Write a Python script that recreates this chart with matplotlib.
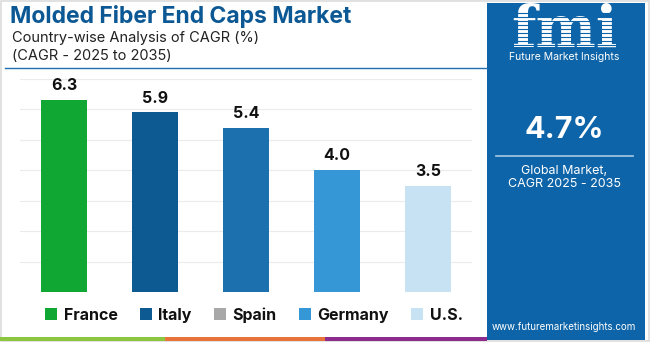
import matplotlib
matplotlib.use("Agg")
import matplotlib.pyplot as plt
from matplotlib.patches import Rectangle
from matplotlib.lines import Line2D

# Data
countries = ["France", "Italy", "Spain", "Germany", "U.S."]
cagr = [6.3, 5.9, 5.4, 4.0, 3.5]
bar_colors = ["#10a833", "#0c5a91", "#1c70ae", "#3597d5", "#c6e2f3"]
legend_colors = ["#10a833", "#0c5a91", "#a8a8a8", "#3597d5", "#c6e2f3"]
global_cagr = "4.7%"

W, H = 650, 342
fig = plt.figure(figsize=(W / 100, H / 100), dpi=100)
FONT = ["Inter", "DejaVu Sans"]
plt.rcParams["font.family"] = FONT


def fx(px):
    return px / W


def fy(py):
    return 1 - py / H


# Outer frame
fig.patches.append(Rectangle((0.001, 0.002), 0.998, 0.996, transform=fig.transFigure,
                             facecolor="none", edgecolor="#dcdcdc", lw=1.2, zorder=0))

# Header
fig.text(fx(10), fy(17), "Molded Fiber End Caps Market", fontsize=16.5,
         fontweight="bold", color="#0b5894", va="center", ha="left")
fig.text(fx(12), fy(38), "Country-wise Analysis of CAGR (%)", fontsize=10.5,
         color="#222222", va="center", ha="left")
fig.text(fx(12), fy(56), "(CAGR - 2025 to 2035)", fontsize=10.5,
         color="#222222", va="center", ha="left")
fig.lines.append(Line2D([fx(5), fx(487)], [fy(68), fy(68)], transform=fig.transFigure,
                        color="#1f6fb0", lw=1.0))

# Bar chart
ax = fig.add_axes([fx(20), fy(292), fx(472) - fx(20), fy(79) - fy(292)])
x = range(len(countries))
bars = ax.bar(x, cagr, width=0.5, color=bar_colors, zorder=3)
ax.set_ylim(0, 7)
ax.set_xlim(-0.485, 4.485)
ax.set_yticks(range(1, 8))
ax.grid(axis="y", color="#ebebeb", lw=0.8, zorder=0)
ax.tick_params(left=False, bottom=False, labelleft=False, labelbottom=False)
for s in ax.spines.values():
    s.set_visible(False)
ax.bar_label(bars, labels=[f"{v:.1f}" for v in cagr], padding=5, fontsize=11.5,
             fontweight="bold", color="#111111")

# Legend
handles = [Rectangle((0, 0), 1, 1, facecolor=c, edgecolor="none") for c in legend_colors]
leg = fig.legend(handles, countries, loc="center", bbox_to_anchor=(fx(254), fy(315)),
                 ncol=5, frameon=False, handlelength=0.75, handleheight=0.75,
                 handletextpad=0.4, columnspacing=1.4,
                 prop={"weight": "bold", "size": 11.5, "family": FONT})
for t in leg.get_texts():
    t.set_color("#111111")

# Bottom stripe
for x0, x1, c in [(0, 165, "#8cc63f"), (165, 325, "#e8743b"), (325, 487, "#8e2c8e")]:
    fig.patches.append(Rectangle((fx(x0), fy(341)), fx(x1) - fx(x0), fy(337) - fy(341),
                                 transform=fig.transFigure, facecolor=c, edgecolor="none"))

# Side panel
fig.patches.append(Rectangle((fx(487), fy(340)), fx(645) - fx(487), fy(3) - fy(340),
                             transform=fig.transFigure, facecolor="#0e64a8",
                             edgecolor="none", zorder=1))
cx = fx(564)
fig.text(cx, fy(47), "fmi", fontsize=41, fontweight="bold", family="DejaVu Serif",
         color="white", ha="center", va="baseline", zorder=3)
for yy in range(13, 48, 4):
    fig.lines.append(Line2D([fx(505), fx(625)], [fy(yy), fy(yy)], transform=fig.transFigure,
                            color="#0e64a8", lw=0.8, zorder=4))
fig.text(cx, fy(57.5), "Future Market Insights", fontsize=7.5, color="white",
         ha="center", va="center", zorder=5)
fig.text(cx, fy(130), global_cagr, fontsize=22, fontweight="bold", color="white",
         ha="center", va="center", zorder=3)
fig.lines.append(Line2D([fx(496), fx(633)], [fy(156), fy(156)], transform=fig.transFigure,
                        color="#a9cbe6", lw=1.2, zorder=3))
fig.text(cx, fy(171), "Global Market,", fontsize=9, color="white",
         ha="center", va="center", zorder=3)
fig.text(cx, fy(184), "CAGR 2025 - 2035", fontsize=9, color="white",
         ha="center", va="center", zorder=3)
fig.text(cx, fy(327), "www.futuremarketinsights.com", fontsize=7, color="white",
         ha="center", va="center", zorder=3)

fig.savefig("out.png", dpi=100)
